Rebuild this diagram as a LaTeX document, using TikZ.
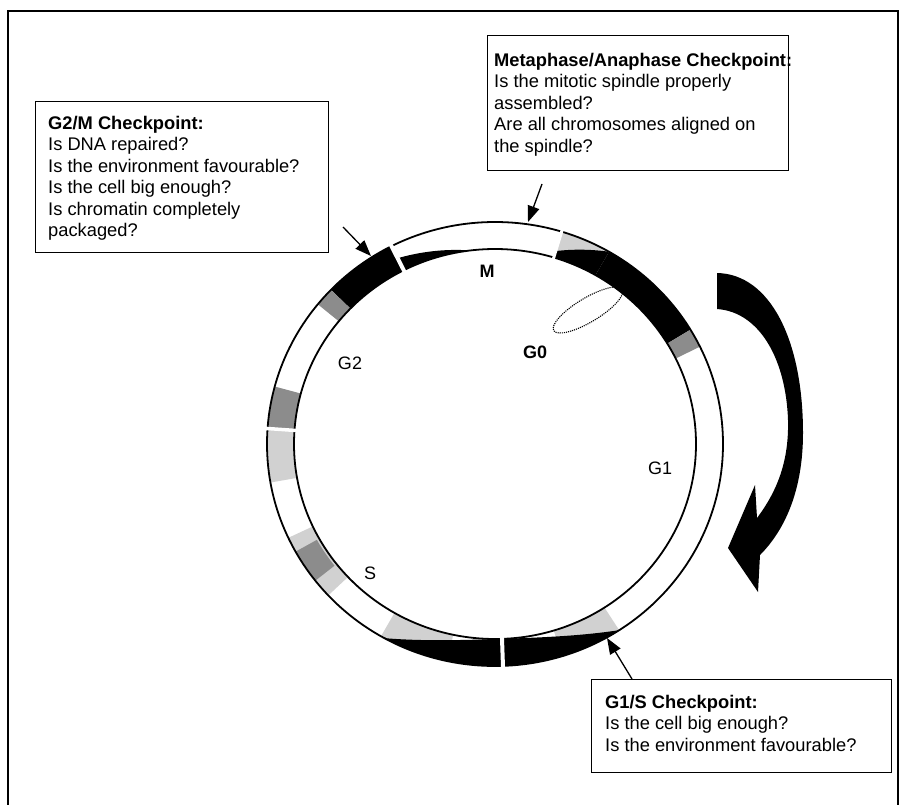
\documentclass[tikz,border=0pt]{standalone}
\usepackage{fontspec}
\setmainfont{Liberation Sans}
\usetikzlibrary{arrows.meta}
\newcommand\cxx{495}
\newcommand\cyy{444}
% band segment: #1 style, #2 from angle, #3 to angle, #4 outer fraction, #5 inner fraction (0 = inner ring, 1 = outer ring)
\newcommand\bandseg[5]{%
  \fill[#1] plot[domain=#2:#3,samples=40,variable=\t]
     ({\cxx+(201+27*(#4))*cos(\t)},{\cyy-(195+27*(#4))*sin(\t)})
   -- plot[domain=#3:#2,samples=40,variable=\t]
     ({\cxx+(201+27*(#5))*cos(\t)},{\cyy-(195+27*(#5))*sin(\t)}) -- cycle;}
\newcommand\ringgap[2]{%
  \draw[white,line width=#2] ({\cxx+196*cos(#1)},{\cyy-190*sin(#1)}) -- ({\cxx+233*cos(#1)},{\cyy-227*sin(#1)});}
\begin{document}
\begin{tikzpicture}[x=1pt,y=-1pt,
  ringline/.style={line width=1.8pt},
  box/.style={draw,line width=1.4pt,rectangle,inner sep=0pt,anchor=north west},
  boxtext/.style={anchor=north west,inner sep=0pt,align=left,font=\fontsize{18.3}{21.5}\selectfont},
  lbl/.style={inner sep=0pt,font=\fontsize{18}{20}\selectfont},
  lblb/.style={inner sep=0pt,font=\fontsize{18}{20}\selectfont\bfseries},
  chk/.style={line width=1.3pt,-{Triangle[length=16pt,width=12pt]}},
  dark/.style={fill=black!45},
  light/.style={fill=black!18},
]
\useasboundingbox (0,0) rectangle (907,805);
\fill[white] (0,0) rectangle (907,805);
% outer frame
\draw[line width=2pt] (8,810) -- (8,11) -- (898,11) -- (898,810);

% ---- ring fills ----
% upper left (G2 end)
\bandseg{black}{117}{136}{1}{0}
\bandseg{dark}{136}{141}{1}{0}
% M sliver
\bandseg{black}{97}{117}{0.5*(\t-97)/20}{0}
% upper right (M/G1)
\bandseg{light}{60}{73}{1}{0}
\bandseg{black}{60}{73}{1-0.75*(\t-60)/13}{0}
\bandseg{black}{31}{60}{1}{0}
\bandseg{dark}{26}{31}{1}{0}
% left side (G2/S)
\bandseg{dark}{165}{176}{1}{0}
\bandseg{light}{176}{190}{1}{0}
% lower left (S)
\bandseg{light}{205}{223}{1}{0}
\bandseg{dark}{209}{218}{1}{0.1}
% bottom (S/G1)
\bandseg{light}{240}{258}{1}{0}
\bandseg{light}{287}{303}{1}{0}
\bandseg{black}{240}{303}{1}{min(1,((\t-272)/31)^2)}

% ---- ring outlines ----
\draw[ringline] (\cxx,\cyy) ellipse [x radius=228,y radius=222];
\draw[ringline] (\cxx,\cyy) ellipse [x radius=201,y radius=195];

% ---- gaps ----
\ringgap{117}{4pt}
\ringgap{176}{3.5pt}
\ringgap{272}{4pt}
\ringgap{73}{3pt}

% ---- G0 dotted loop ----
\draw[densely dotted,line width=1.1pt,rotate around={31:(588,310)}] (588,310) ellipse [x radius=40,y radius=12];

% ---- phase labels ----
\node[lblb] (lblM) at (487,271) {M};
\node[lblb] (lblG0) at (535,352) {G0};
\node[lbl] (lblG2) at (350,363) {G2};
\node[lbl] (lblG1) at (660,468) {G1};
\node[lbl] (lblS) at (370,573) {S};

% ---- checkpoint boxes ----
\node[box,minimum width=293pt,minimum height=151pt] (g2mbox) at (35,101) {};
\node[boxtext] (g2mtext) at (48,116) {\textbf{G2/M Checkpoint:}\\Is DNA repaired?\\Is the environment favourable?\\Is the cell big enough?\\Is chromatin completely\\packaged?};

\node[box,minimum width=301pt,minimum height=135pt] (mabox) at (487,35) {};
\node[boxtext] (matext) at (494,53) {\textbf{Metaphase/Anaphase Checkpoint:}\\Is the mitotic spindle properly\\assembled?\\Are all chromosomes aligned on\\the spindle?};

\node[box,minimum width=300pt,minimum height=93pt] (g1sbox) at (591,679) {};
\node[boxtext] (g1stext) at (605,695) {\textbf{G1/S Checkpoint:}\\Is the cell big enough?\\Is the environment favourable?};

% ---- checkpoint arrows ----
\coordinate (g2mfrom) at (343,227);
\coordinate (g2mto) at (371,256);
\coordinate (mafrom) at (542,184);
\coordinate (mato) at (528,222);
\coordinate (g1sfrom) at (632,679);
\coordinate (g1sto) at (607,638);
\draw[chk] (g2mfrom) -- (g2mto);
\draw[chk] (mafrom) -- (mato);
\draw[chk] (g1sfrom) -- (g1sto);

% ---- big curved arrow ----
\fill[black] (717,273) .. controls (770,274) and (803,340) .. (803,433)
  .. controls (803,490) and (785,530) .. (760,555)
  -- (758,592) -- (728,548) -- (755,485) -- (757,518)
  .. controls (778,490) and (789,460) .. (788,420)
  .. controls (786,360) and (760,312) .. (717,309) -- cycle;
\end{tikzpicture}
\end{document}
